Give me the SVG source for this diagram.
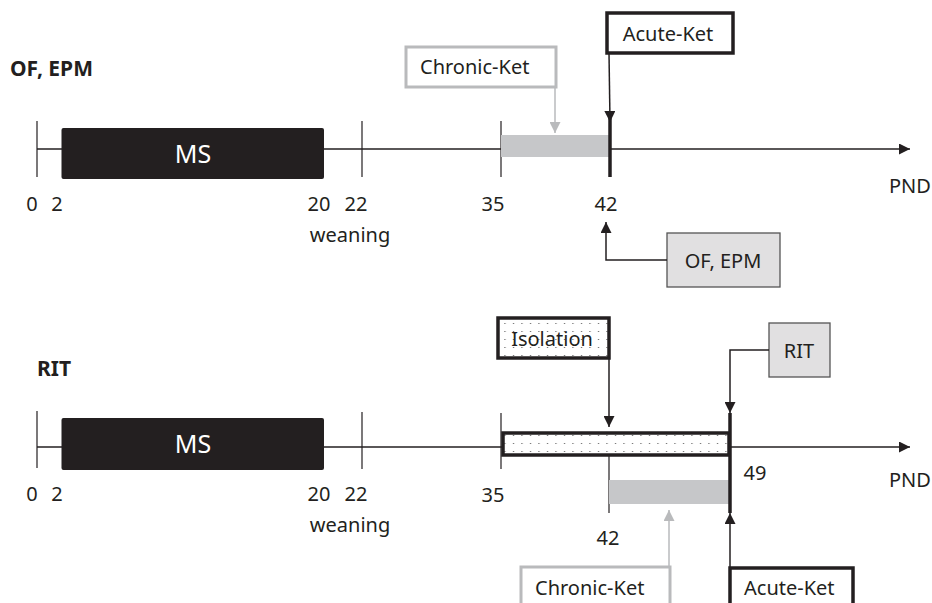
<svg xmlns="http://www.w3.org/2000/svg" width="932" height="603" viewBox="0 0 932 603">
<defs>
<style>
text{font-family:"Noto Sans","Open Sans","DejaVu Sans",sans-serif;fill:#231f20}
.lbl{font-size:20px}
.bold{font-size:21px;font-weight:bold}
.axis{stroke:#231f20;stroke-width:1.4;fill:none}
.tick{stroke:#231f20;stroke-width:1.2}
.thick{stroke:#231f20;stroke-width:3.5}
.ms{fill:#231f20}
.mst{fill:#fff;font-size:25px}
.gbar{fill:#c6c7c9}
.conn{stroke:#231f20;stroke-width:1.5;fill:none}
.gconn{stroke:#b9babc;stroke-width:1.5;fill:none}
.gbox{fill:#fff;stroke:#b9babc;stroke-width:3}
.kbox{fill:#fff;stroke:#231f20;stroke-width:3.5}
.tbox{fill:#e1e0e1;stroke:#555;stroke-width:1.3}
</style>
<pattern id="dots" width="8.5" height="8" patternUnits="userSpaceOnUse">
<rect width="8.5" height="8" fill="#fff"/>
<rect x="3" y="3" width="1" height="1" fill="#444"/>
</pattern>
<marker id="ah" viewBox="0 0 10 10" refX="10" refY="5" markerWidth="11" markerHeight="11" markerUnits="userSpaceOnUse" orient="auto">
<path d="M0,0 L10,5 L0,10 Z" fill="#231f20"/>
</marker>
<marker id="gah" viewBox="0 0 10 10" refX="10" refY="5" markerWidth="11" markerHeight="11" markerUnits="userSpaceOnUse" orient="auto">
<path d="M0,0 L10,5 L0,10 Z" fill="#b9babc"/>
</marker>
</defs>

<!-- Top panel -->
<g id="top-timeline">
<text class="bold" x="10" y="76">OF, EPM</text>
<line class="axis" x1="37" y1="149" x2="910" y2="149" marker-end="url(#ah)"/>
<line class="tick" x1="37" y1="121" x2="37" y2="177"/>
<line class="tick" x1="362" y1="121" x2="362" y2="177"/>
<line class="tick" x1="501" y1="121" x2="501" y2="177"/>
<rect class="gbar" x="501" y="135" width="108" height="22"/>
<line class="thick" x1="610" y1="118" x2="610" y2="177"/>
<text class="lbl" x="32" y="211" text-anchor="middle">0</text>
<text class="lbl" x="57" y="211" text-anchor="middle">2</text>
<text class="lbl" x="319" y="211" text-anchor="middle">20</text>
<text class="lbl" x="356" y="211" text-anchor="middle">22</text>
<text class="lbl" x="350" y="242" text-anchor="middle">weaning</text>
<text class="lbl" x="493" y="211" text-anchor="middle">35</text>
<text class="lbl" x="606" y="211" text-anchor="middle">42</text>
<text class="lbl" x="889" y="193">PND</text>
</g>
<g id="top-ms">
<rect class="ms" x="61.5" y="128" width="262.5" height="51" rx="2"/>
<text class="mst" x="193" y="163" text-anchor="middle">MS</text>
</g>
<g id="top-chronic">
<rect class="gbox" x="406" y="47" width="150" height="40"/>
<text class="lbl" x="420" y="74">Chronic-Ket</text>
</g>
<g id="top-acute">
<rect class="kbox" x="607" y="13" width="126" height="40"/>
<text class="lbl" x="668" y="41" text-anchor="middle">Acute-Ket</text>
</g>
<g id="top-ofepm">
<rect class="tbox" x="667" y="233" width="113" height="54"/>
<text class="lbl" x="723" y="268" text-anchor="middle">OF, EPM</text>
</g>

<!-- Bottom panel -->
<g id="bottom-timeline">
<text class="bold" x="37" y="376">RIT</text>
<line class="axis" x1="37" y1="447" x2="910" y2="447" marker-end="url(#ah)"/>
<line class="tick" x1="37" y1="411" x2="37" y2="468"/>
<line class="tick" x1="362" y1="412" x2="362" y2="469"/>
<line class="tick" x1="501" y1="413" x2="501" y2="469"/>
<line class="tick" x1="609" y1="455" x2="609" y2="513"/>
<rect class="gbar" x="609" y="480" width="120" height="24"/>
<text class="lbl" x="32" y="501" text-anchor="middle">0</text>
<text class="lbl" x="57" y="501" text-anchor="middle">2</text>
<text class="lbl" x="319" y="501" text-anchor="middle">20</text>
<text class="lbl" x="356" y="501" text-anchor="middle">22</text>
<text class="lbl" x="350" y="532" text-anchor="middle">weaning</text>
<text class="lbl" x="493" y="502" text-anchor="middle">35</text>
<text class="lbl" x="608" y="545" text-anchor="middle">42</text>
<text class="lbl" x="755" y="480" text-anchor="middle">49</text>
<text class="lbl" x="889" y="487">PND</text>
</g>
<g id="bottom-ms">
<rect class="ms" x="61.5" y="418" width="262.5" height="52" rx="2"/>
<text class="mst" x="193" y="453" text-anchor="middle">MS</text>
</g>
<g id="bottom-isolation-bar">
<rect x="503" y="433" width="226" height="22" fill="url(#dots)" stroke="#231f20" stroke-width="3.5"/>
<line class="thick" x1="730" y1="413" x2="730" y2="513"/>
</g>
<g id="bottom-isolation">
<rect x="498" y="318" width="111" height="40" fill="url(#dots)" stroke="#231f20" stroke-width="3.5"/>
<text class="lbl" x="552" y="346" text-anchor="middle">Isolation</text>
</g>
<g id="bottom-rit">
<rect class="tbox" x="769" y="323" width="61" height="54"/>
<text class="lbl" x="799" y="358" text-anchor="middle">RIT</text>
</g>
<g id="bottom-chronic">
<rect class="gbox" x="521" y="567" width="149" height="50"/>
<text class="lbl" x="535" y="595">Chronic-Ket</text>
</g>
<g id="bottom-acute">
<rect class="kbox" x="730" y="568" width="123" height="50"/>
<text class="lbl" x="744" y="595">Acute-Ket</text>
</g>

<g id="connectors">
<line class="gconn" x1="555" y1="87" x2="555" y2="133" marker-end="url(#gah)"/>
<line class="conn" x1="609" y1="53" x2="610" y2="122" marker-end="url(#ah)"/>
<polyline class="conn" points="667,260 606,260 606,222" marker-end="url(#ah)"/>
<line class="conn" x1="609" y1="358" x2="609" y2="427" marker-end="url(#ah)"/>
<polyline class="conn" points="769,350 730,350 730,413" marker-end="url(#ah)"/>
<line class="gconn" x1="669" y1="567" x2="669" y2="510" marker-end="url(#gah)"/>
<line class="conn" x1="730" y1="568" x2="730" y2="513" marker-end="url(#ah)"/>
</g>
</svg>
